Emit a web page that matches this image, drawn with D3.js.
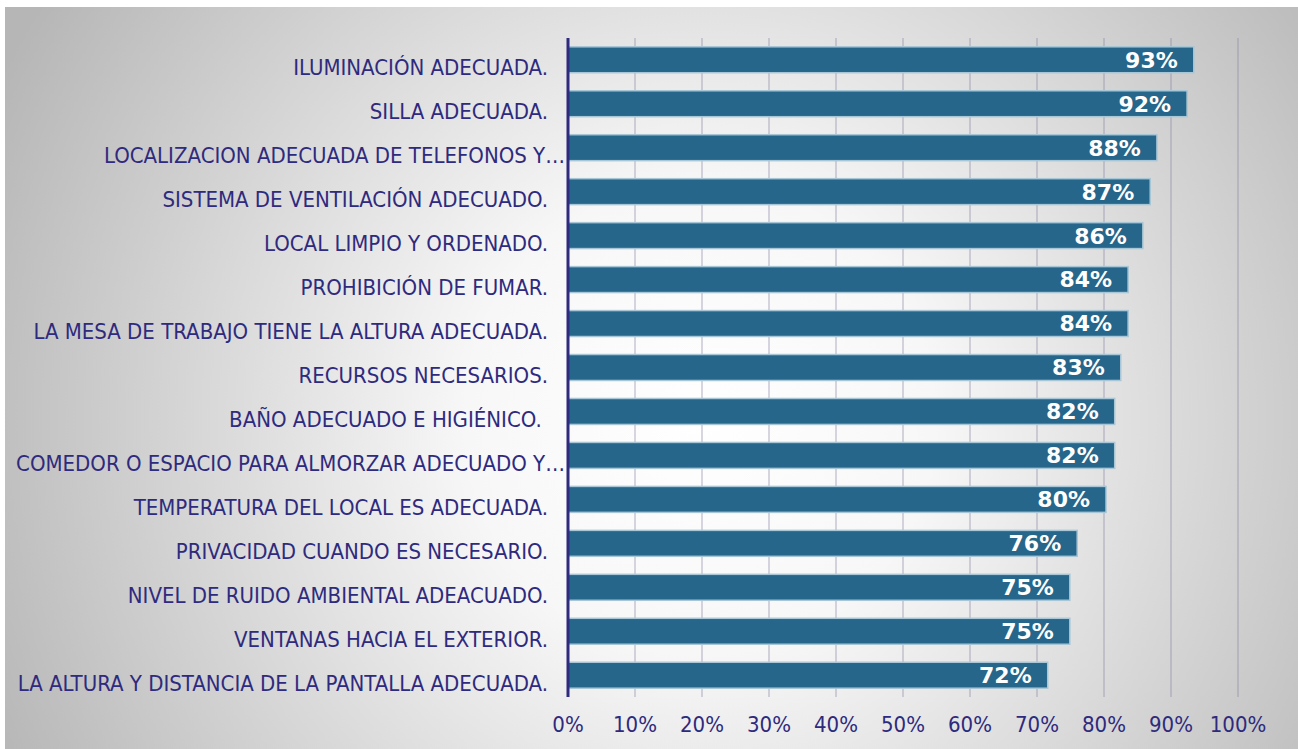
<!DOCTYPE html>
<html>
<head>
  <title>Condiciones del puesto de trabajo</title>
  <style>
    body { margin: 0; background: #fff; }
    svg { display: block; }
    .cat-label { font-family: "DejaVu Sans Condensed", "DejaVu Sans", sans-serif; font-size: 22px; fill: #2e2a7e; }
    .tick-label { font-family: "DejaVu Sans Condensed", "DejaVu Sans", sans-serif; font-size: 22px; fill: #2e2a7e; }
    .bar { fill: #25668a; stroke: #a9c6d6; stroke-width: 1.5; }
    .bar-label { font-family: "DejaVu Sans", sans-serif; font-weight: bold; font-size: 22px; fill: #fff; }
  </style>
</head>
<body>
  <svg id="chart" width="1298" height="749"></svg>

  <script src="https://d3js.org/d3.v7.min.js"></script>
  <script>
    // categories, top to bottom
    const categories = [
      'ILUMINACIÓN ADECUADA.',
      'SILLA ADECUADA.',
      'LOCALIZACION ADECUADA DE TELEFONOS Y…',
      'SISTEMA DE VENTILACIÓN ADECUADO.',
      'LOCAL LIMPIO Y ORDENADO.',
      'PROHIBICIÓN DE FUMAR.',
      'LA MESA DE TRABAJO TIENE LA ALTURA ADECUADA.',
      'RECURSOS NECESARIOS.',
      'BAÑO ADECUADO E HIGIÉNICO. ',
      'COMEDOR O ESPACIO PARA ALMORZAR ADECUADO Y…',
      'TEMPERATURA DEL LOCAL ES ADECUADA.',
      'PRIVACIDAD CUANDO ES NECESARIO.',
      'NIVEL DE RUIDO AMBIENTAL ADEACUADO.',
      'VENTANAS HACIA EL EXTERIOR.',
      'LA ALTURA Y DISTANCIA DE LA PANTALLA ADECUADA.'
    ];
    const values = [93.4, 92.4, 87.9, 86.9, 85.8, 83.6, 83.6, 82.5, 81.6, 81.6, 80.3, 76.0, 74.9, 74.9, 71.6];
    const xTicks = [0, 10, 20, 30, 40, 50, 60, 70, 80, 90, 100];

    const svg = d3.select('#chart');
    const W = 1298, H = 749;

    // background with radial gradient
    const defs = svg.append('defs');
    const grad = defs.append('radialGradient')
      .attr('id', 'bg')
      .attr('gradientUnits', 'userSpaceOnUse')
      .attr('cx', 700).attr('cy', 420).attr('r', 780);
    grad.append('stop').attr('offset', '0%').attr('stop-color', '#ffffff');
    grad.append('stop').attr('offset', '30%').attr('stop-color', '#f7f7f7');
    grad.append('stop').attr('offset', '100%').attr('stop-color', '#b6b6b6');

    svg.append('rect')
      .attr('x', 5).attr('y', 7)
      .attr('width', W - 5).attr('height', H - 7)
      .attr('fill', 'url(#bg)');

    const plotLeft = 568, plotRight = 1238, plotTop = 38, plotBottom = 697;
    const x = d3.scaleLinear().domain([0, 100]).range([plotLeft, plotRight]);
    const y = d3.scaleBand().domain(categories).range([plotTop, plotBottom]).paddingInner(0.41).paddingOuter(0.2);

    // gridlines
    svg.append('g')
      .selectAll('line')
      .data(xTicks.slice(1))
      .enter()
      .append('line')
      .attr('x1', d => x(d)).attr('x2', d => x(d))
      .attr('y1', plotTop).attr('y2', plotBottom)
      .attr('stroke', '#8a88a6')
      .attr('stroke-opacity', 0.45)
      .attr('stroke-width', 1.5);

    // bars
    svg.append('g')
      .selectAll('rect')
      .data(values)
      .enter()
      .append('rect')
      .attr('class', 'bar')
      .attr('x', x(0))
      .attr('y', (d, i) => y(categories[i]))
      .attr('width', d => x(d) - x(0))
      .attr('height', y.bandwidth());

    // bar labels
    svg.append('g')
      .selectAll('text')
      .data(values)
      .enter()
      .append('text')
      .attr('class', 'bar-label')
      .attr('x', d => x(d) - 16)
      .attr('y', (d, i) => y(categories[i]) + y.bandwidth() / 2)
      .attr('dy', '0.36em')
      .attr('text-anchor', 'end')
      .text(d => Math.round(d) + '%');

    // category labels (truncated ones sit a little further right, as in the original)
    svg.append('g')
      .selectAll('text')
      .data(categories)
      .enter()
      .append('text')
      .attr('class', 'cat-label')
      .attr('x', d => d.endsWith('…') ? plotLeft - 3 : plotLeft - 20)
      .attr('y', d => y(d) + y.bandwidth() / 2 + 8)
      .attr('dy', '0.35em')
      .attr('text-anchor', 'end')
      .attr('xml:space', 'preserve')
      .text(d => d);

    // y axis line
    svg.append('line')
      .attr('x1', plotLeft).attr('x2', plotLeft)
      .attr('y1', plotTop).attr('y2', plotBottom)
      .attr('stroke', '#2e2a7e')
      .attr('stroke-width', 3);

    // x tick labels
    svg.append('g')
      .selectAll('text')
      .data(xTicks)
      .enter()
      .append('text')
      .attr('class', 'tick-label')
      .attr('x', d => x(d))
      .attr('y', 724)
      .attr('dy', '0.35em')
      .attr('text-anchor', 'middle')
      .text(d => d + '%');
  </script>
</body>
</html>
